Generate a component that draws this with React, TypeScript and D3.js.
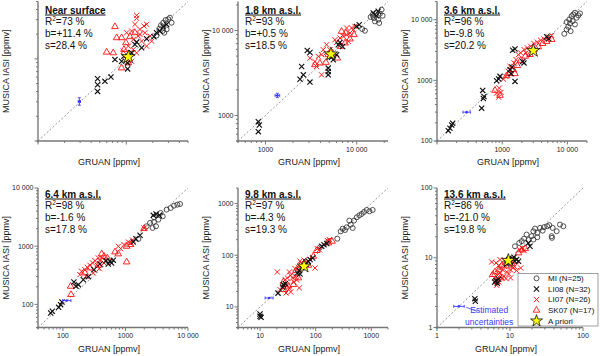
import React from 'react';
import * as d3 from 'd3';

type P = [number, number];

// ---------- panel annotations ----------
const panelTitles = ['Near surface', '1.8 km a.s.l.', '3.6 km a.s.l.', '6.4 km a.s.l.', '9.8 km a.s.l.', '13.6 km a.s.l.'];
const r2Values = ['73', '93', '96', '98', '97', '86'];
const biasValues = ['+11.4', '+0.5', '-9.8', '-1.6', '-4.3', '-21.0'];
const scatterValues = ['28.4', '18.5', '20.2', '17.8', '19.3', '19.8'];
const domains: P[] = [[1000, 50000], [500, 22000], [100, 20000], [40, 10000], [4, 2000], [1, 100]];
const xTickLabels: number[][] = [[], [1000, 10000], [1000, 10000], [100, 1000, 10000], [10, 100, 1000], [1, 10, 100]];
const yTickLabels: number[][] = [[], [1000, 10000], [100, 1000, 10000], [100, 1000, 10000], [10, 100, 1000], [1, 10, 100]];
const legendLabels = ['MI (N=25)', 'LI08 (N=32)', 'LI07 (N=26)', 'SK07 (N=17)', 'A priori'];

// ---------- Near surface ----------
const nsMI: P[] = [[24680,25600],[26230,27600],[27870,29740],[29880,30330],[32600,27600],[28640,22860],[25770,21830],[23640,23300],[31200,31770],[26920,20800],[22040,19300]];
const nsLI08: P[] = [[4730,5740],[4730,4850],[4730,4020],[5730,5330],[6700,6020],[7440,9810],[8850,9360],[10350,7550],[10350,8930],[9420,10790],[12540,15000],[13090,16000],[16990,17580],[20560,18600],[24050,21800],[26230,24660],[28640,26300],[22040,20800],[14920,13640],[11490,11840]];
const nsLI07: P[] = [[13090,33950],[13090,31190],[12540,26320],[10090,20800],[11490,21830],[14280,22860],[15850,25120],[16990,26320],[16270,20800],[18530,18950],[13670,18950],[12000,17250],[14920,16450],[10540,14290],[12000,13000],[13090,11840],[9250,12410],[10090,9810],[16990,14290],[19360,16450],[11490,9360],[14280,19860]];
const nsSK07: P[] = [[7440,24660],[7780,18070],[8850,18070],[5990,12070],[7120,11840],[8850,7760],[10540,8930],[9910,15700],[11010,18600],[12540,20800],[9420,13000]];

// ---------- 1.8 km ----------
const km18MI: P[] = [[14900,15390],[15410,14050],[16220,16100],[17180,13430],[17940,15810],[15810,12830],[14190,14450],[18710,17630],[17630,12270],[19190,14960],[11480,10420],[12290,9950]];
const km18LI08: P[] = [[835,845],[856,773],[835,644],[2870,5830],[3070,5520],[2490,3770],[2600,3010],[2390,2670],[3070,2470],[4870,3610],[4870,3300],[4870,3010],[5530,4530],[6020,5190],[6280,6800],[6540,7250],[7000,6500],[9960,11200],[10640,11720],[5300,4860],[15170,16100],[16490,14960],[17180,16860]];
const km18LI07: P[] = [[3070,4730],[3480,4320],[3790,4950],[4120,5190],[4600,5430],[5080,5940],[5770,7800],[6010,7250],[6540,8160],[7110,8540],[7740,8930],[8420,9350],[9160,10230],[8780,10720],[9550,11200],[8070,7450],[4670,6800],[4300,5940],[4120,3010],[7740,10720],[3630,3770]];
const km18SK07: P[] = [[3480,3950],[3950,4130],[4600,4210],[4870,5190],[5440,5430],[6120,4730],[6650,6500],[7420,7120],[8420,7940],[9310,8930],[6820,9770],[7600,9350]];

// ---------- 3.6 km ----------
const km36MI: P[] = [[8970,5860],[9750,6920],[10330,7660],[10960,8690],[10710,10140],[11620,11510],[12330,12250],[13090,13050],[13870,10790],[12040,9500],[13090,8370],[14720,11800],[15600,12740],[11220,6490],[9750,9150]];
const km36LI08: P[] = [[158,162],[168,184],[149,148],[174,196],[502,683],[526,543],[514,503],[484,348],[822,987],[883,1052],[925,1164],[1571,962],[1447,3140],[1571,3300],[1317,1503],[1414,1664],[1365,1290],[2060,2040],[2160,1940],[4810,5230],[5160,4840]];
const km36LI07: P[] = [[1140,1160],[1240,1410],[1317,1700],[1520,1940],[1630,2200],[1770,2660],[1920,2840],[2160,3220],[2430,3430],[2730,3660],[3070,4050],[3460,4270],[3890,4600],[4380,4840],[5100,5230],[5740,5500],[904,746],[959,632],[822,617],[883,529],[1041,1052],[2320,2840]];
const km36SK07: P[] = [[1170,1190],[1290,1290],[1480,1500],[1710,1750],[1920,2140],[2260,2500],[2670,2660],[3070,3220],[3580,3570],[4170,4050],[4810,4370],[5740,4720],[1570,1290],[925,564],[776,683]];

// ---------- 6.4 km ----------
const km64MI: P[] = [[2180,2200],[2860,3130],[2860,2610],[3080,2200],[2720,2060],[3650,3720],[3940,3260],[4550,4250],[5280,4530],[5970,4970],[6750,5180],[7450,5310],[1610,1330],[2470,2510],[3350,2860]];
const km64LI08: P[] = [[63.8,71],[67.8,75.9],[85.5,88.9],[92.1,98.8],[96.7,110],[150,242],[162,204],[177,218],[212,265],[255,299],[314,394],[392,494],[489,564],[566,550],[601,514],[532,494],[640,572],[1336,1180],[1470,1345],[1710,1540],[2790,3390],[3080,3570],[3480,3390]];
const km64LI07: P[] = [[187,324],[199,370],[225,394],[245,433],[271,469],[299,514],[326,564],[355,469],[392,564],[417,627],[454,514],[382,410],[306,346],[234,303],[769,994],[838,906],[948,1062],[1112,1180],[1211,1120],[1304,1276],[1980,2060],[368,627]];
const km64SK07: P[] = [[133,204],[135,147],[225,346],[271,422],[368,469],[454,669],[513,627],[681,795],[769,735],[1045,994],[1211,1062],[1045,534],[1980,2000],[417,735]];

// ---------- 9.8 km ----------
const km98MI: P[] = [[119,142],[169,186],[245,209],[282,290],[306,327],[337,308],[361,348],[427,391],[463,337],[403,468],[547,542],[611,593],[673,630],[741,688],[828,752],[925,708],[1060,752],[490,468]];
const km98LI08: P[] = [[9.96,7.3],[10.4,6.29],[9.96,6.58],[26.2,27],[28.4,28.2],[25.5,24],[46.8,45.4],[50.8,50.4],[56,56.7],[67,67.8],[73.8,76.4],[79.1,82.3],[88.3,88.6],[128,149],[141,160],[158,168],[52.2,43.4],[21,18.5]];
const km98LI07: P[] = [[20.4,47.5],[22.8,21.6],[25.5,23.3],[28.4,33.7],[30.9,36.3],[30.9,26.2],[33.6,22.6],[35.5,40.9],[38.5,36.3],[40.7,30.4],[43.1,38.5],[45.5,33.2],[48.8,58.4],[52.2,76.4],[56.7,69.8],[61.7,80.9],[42.5,55.1],[35.5,19.5],[29.2,18.6],[97.2,56.7],[107,134],[116,128],[162,192],[176,200],[50.8,23.3],[33.6,47.5]];
const km98SK07: P[] = [[27,21.6],[32.2,25.1],[39.6,27],[48.8,36.3],[53.7,63.9],[64.3,70.8],[73.8,63.9],[90.7,95.3],[104,123],[169,173],[197,186],[26.2,30.4],[44.3,50.4]];

// ---------- 13.6 km ----------
const km136MI: P[] = [[11.7,14.6],[13.4,16.3],[15.6,18.8],[16.9,21.5],[18,18],[19.8,20.4],[20.9,24],[22,26.2],[23.7,22.7],[25.8,26.8],[28,24.5],[29.2,27.4],[32.4,28.3],[34.6,29.3],[38.4,26.8],[43.6,24],[48.4,29.9],[37.2,20.4],[37.6,19.3],[20.9,18.2],[14.5,17.3],[23.7,19.7],[53.8,28.3]];
const km136LI08: P[] = [[6.43,4.7],[6.7,4.31],[7,4.91],[6.17,4.5],[9.59,9.41],[10.2,8.71],[10.9,9.73],[11.6,8.91],[12.3,9.41],[13.1,8.91],[11.3,10.2],[3.3,2.59],[3.35,2.38],[9,8.15],[17.8,16.3],[18.8,14.6]];
const km136LI07: P[] = [[6.43,8.43],[7,7.8],[7.45,7.14],[7.94,6.68],[8.45,7.46],[9,6.27],[9.59,5.86],[10.2,6.68],[10.9,7.14],[11.6,7.46],[12.3,6.54],[6.7,5.61],[7.29,6.06],[7.77,5.14],[8.28,5.42],[8.81,5.02],[6.57,4.03],[7,4.5],[6.17,5.14],[7.29,9.41],[10.2,5.14],[14,7.14],[13.4,13.1],[14.6,13.8],[15.6,12.7],[5.61,8.71]];
const km136SK07: P[] = [[6.23,6.27],[7,6.68],[7.77,7.8],[8.63,8.71],[9.59,7.63],[10.7,8.15],[11.8,8.91],[6.57,4.5],[7.45,5.14],[13.1,11.7],[14.6,12.9],[16.2,13.5],[5.79,5.73]];

// ---------- a priori & uncertainties ----------
const aprioriPoints: (P | null)[] = [[10540,10570],[5210,5280],[3000,3100],null,[61.7,61.1],[9.49,9.1]];
const uncPoints: P[] = [[2940,3030],[1350,1720],[285,299],[115,116],[14.5,14.9],[2.0,2.01]];
const uncXErr = [1.03, 1.06, 1.14, 1.17, 1.18, 1.18];
const uncYErr = [1.11, 1.06, 1.0, 1.0, 1.0, 1.0];

const miSets = [nsMI, km18MI, km36MI, km64MI, km98MI, km136MI];
const li08Sets = [nsLI08, km18LI08, km36LI08, km64LI08, km98LI08, km136LI08];
const li07Sets = [nsLI07, km18LI07, km36LI07, km64LI07, km98LI07, km136LI07];
const sk07Sets = [nsSK07, km18SK07, km36SK07, km64SK07, km98SK07, km136SK07];

const FONT = '"Liberation Sans", Arial, Helvetica, sans-serif';
const RED = '#ff1a1a';
const BLUE = '#3b3bff';
const AXIS = '#777';

const starPath = d3.symbol().type(d3.symbolStar).size(56)() as string;
const starSmall = d3.symbol().type(d3.symbolStar).size(44)() as string;
const triPath = d3.symbol().type(d3.symbolTriangle).size(19)() as string;
const crossPath = 'M-2.6,-2.6L2.6,2.6M-2.6,2.6L2.6,-2.6';

const fmt = (v: number) => (v >= 10000 ? d3.format(',')(v).replace(/,/g, ' ') : String(v));

function logTicks(d0: number, d1: number) {
  const out: { v: number; major: boolean }[] = [];
  for (let e = Math.floor(Math.log10(d0)); e <= Math.ceil(Math.log10(d1)); e++) {
    for (let m = 1; m < 10; m++) {
      const v = m * Math.pow(10, e);
      if (v >= d0 * 0.999 && v <= d1 * 1.001) out.push({ v, major: m === 1 });
    }
  }
  return out;
}

const colLeft = [38, 238, 437];
const rowTop = [1.5, 188];
const plotH = 139.5;
const plotW = [150, 150, 150, 150, 150, 146];
const textBase = [13.5, 197.5];

function Panel({ i }: { i: number }) {
  const left = colLeft[i % 3];
  const row = Math.floor(i / 3);
  const top = rowTop[row];
  const w = plotW[i];
  const bottom = top + plotH;
  const dom = domains[i];
  const x = d3.scaleLog().domain(dom).range([left, left + w]);
  const y = d3.scaleLog().domain(dom).range([bottom, top]);
  const ticks = logTicks(dom[0], dom[1]);
  const star = aprioriPoints[i];
  const u = uncPoints[i];
  const tb = textBase[row];
  const tx = left + 7;
  const ux = x(u[0]), uy = y(u[1]);
  const ux0 = x(u[0] / uncXErr[i]), ux1 = x(u[0] * uncXErr[i]);
  const uy0 = y(u[1] / uncYErr[i]), uy1 = y(u[1] * uncYErr[i]);

  return (
    <g>
      {/* 1:1 line */}
      <line x1={x(dom[0])} y1={y(dom[0])} x2={x(dom[1])} y2={y(dom[1])} stroke="#8a8a8a" strokeWidth={0.9} strokeDasharray="2,2" />
      {/* axes */}
      <line x1={left} y1={top} x2={left} y2={bottom + 1.5} stroke={AXIS} strokeWidth={1.4} />
      <line x1={left - 1.5} y1={bottom} x2={left + w} y2={bottom} stroke={AXIS} strokeWidth={1.4} />
      {ticks.map((t, k) => (
        <g key={'t' + k}>
          <line x1={x(t.v)} x2={x(t.v)} y1={bottom} y2={bottom + (t.major ? 3.5 : 2)} stroke={AXIS} strokeWidth={1} />
          <line y1={y(t.v)} y2={y(t.v)} x1={left} x2={left - (t.major ? 3.5 : 2)} stroke={AXIS} strokeWidth={1} />
        </g>
      ))}
      {xTickLabels[i].map((v) => (
        <text key={'xl' + v} x={x(v)} y={bottom + 10.8} fontSize={7} textAnchor="middle" fontFamily={FONT} fill="#222">{fmt(v)}</text>
      ))}
      {yTickLabels[i].map((v) => (
        <text key={'yl' + v} x={left - 4.5} y={y(v)} dy="0.35em" fontSize={7} textAnchor="end" fontFamily={FONT} fill="#222">{fmt(v)}</text>
      ))}
      {/* axis titles */}
      <text x={left + w / 2 - 4} y={bottom + 24} fontSize={9} textAnchor="middle" fontFamily={FONT} fill="#222">GRUAN [ppmv]</text>
      <text transform={`translate(${left - 29.5},${(top + bottom) / 2}) rotate(-90)`} fontSize={9} textAnchor="middle" fontFamily={FONT} fill="#222">MUSICA IASI [ppmv]</text>
      {/* data */}
      {miSets[i].map((d, k) => (
        <circle key={'mi' + k} cx={x(d[0])} cy={y(d[1])} r={2.5} fill="none" stroke="#333" strokeWidth={0.85} />
      ))}
      {li07Sets[i].map((d, k) => (
        <path key={'l7' + k} d={crossPath} transform={`translate(${x(d[0])},${y(d[1])})`} stroke={RED} strokeWidth={1} fill="none" />
      ))}
      {sk07Sets[i].map((d, k) => (
        <path key={'sk' + k} d={triPath} transform={`translate(${x(d[0])},${y(d[1])})`} stroke={RED} strokeWidth={0.95} fill="none" />
      ))}
      {li08Sets[i].map((d, k) => (
        <path key={'l8' + k} d={crossPath} transform={`translate(${x(d[0])},${y(d[1])})`} stroke="#111" strokeWidth={1.15} fill="none" />
      ))}
      {star && (
        <path d={starPath} transform={`translate(${x(star[0])},${y(star[1])})`} fill="#ffff00" stroke="#111" strokeWidth={0.8} />
      )}
      {/* uncertainty */}
      <g stroke={BLUE} strokeWidth={0.9} fill="none">
        <line x1={ux0} x2={ux1} y1={uy} y2={uy} />
        <line x1={ux0} x2={ux0} y1={uy - 1.5} y2={uy + 1.5} />
        <line x1={ux1} x2={ux1} y1={uy - 1.5} y2={uy + 1.5} />
        {uncYErr[i] > 1 && (
          <g>
            <line x1={ux} x2={ux} y1={uy0} y2={uy1} />
            <line x1={ux - 1.5} x2={ux + 1.5} y1={uy0} y2={uy0} />
            <line x1={ux - 1.5} x2={ux + 1.5} y1={uy1} y2={uy1} />
          </g>
        )}
      </g>
      <circle cx={ux} cy={uy} r={1.3} fill={BLUE} />
      {/* annotation */}
      <g fontFamily={FONT} fontSize={10} fill="#111">
        <text x={tx} y={tb} fontWeight="bold" style={{ textDecoration: 'underline' }}>{panelTitles[i]}</text>
        <text x={tx} y={tb + 11.8}>
          R<tspan dy={-4} fontSize={6.5}>2</tspan><tspan dy={4}>={r2Values[i]} %</tspan>
        </text>
        <text x={tx} y={tb + 23.6}>b={biasValues[i]} %</text>
        <text x={tx} y={tb + 35.4}>s={scatterValues[i]} %</text>
      </g>
      {i === 5 && (
        <g>
          <line x1={ux1 + 2} y1={uy + 1} x2={ux1 + 13} y2={uy + 5} stroke={BLUE} strokeWidth={0.8} />
          <text x={ux1 + 25} y={uy + 7} fontSize={8.5} textAnchor="middle" fontFamily={FONT} fill={BLUE}>Estimated</text>
          <text x={ux1 + 25} y={uy + 18.5} fontSize={8.5} textAnchor="middle" fontFamily={FONT} fill={BLUE}>uncertainties</text>
          <Legend x0={518} y0={273.5} />
        </g>
      )}
    </g>
  );
}

function Legend({ x0, y0 }: { x0: number; y0: number }) {
  const rowH = 10.65;
  const sx = x0 + 18.5;
  const lx = x0 + 30;
  const cy = (k: number) => y0 + 4.8 + k * rowH;
  return (
    <g>
      <rect x={x0} y={y0} width={80} height={52.5} fill="#fff" stroke="#888" strokeWidth={0.8} />
      <circle cx={sx} cy={cy(0)} r={2.5} fill="none" stroke="#333" strokeWidth={0.85} />
      <path d={crossPath} transform={`translate(${sx},${cy(1)})`} stroke="#111" strokeWidth={1.15} />
      <path d={crossPath} transform={`translate(${sx},${cy(2)})`} stroke={RED} strokeWidth={1} />
      <path d={triPath} transform={`translate(${sx},${cy(3)})`} stroke={RED} strokeWidth={0.95} fill="none" />
      <path d={starSmall} transform={`translate(${sx},${cy(4)})`} fill="#ffff00" stroke="#111" strokeWidth={0.8} />
      {legendLabels.map((l, k) => (
        <text key={l} x={lx} y={cy(k)} dy="0.35em" fontSize={8} fontFamily={FONT} fill="#111">{l}</text>
      ))}
    </g>
  );
}

export default function App() {
  return (
    <svg width={600} height={356} style={{ position: 'absolute', left: 0, top: 0, background: '#fff' }}>
      <rect width={600} height={356} fill="#fff" />
      {[0, 1, 2, 3, 4, 5].map((i) => (
        <Panel key={i} i={i} />
      ))}
    </svg>
  );
}
